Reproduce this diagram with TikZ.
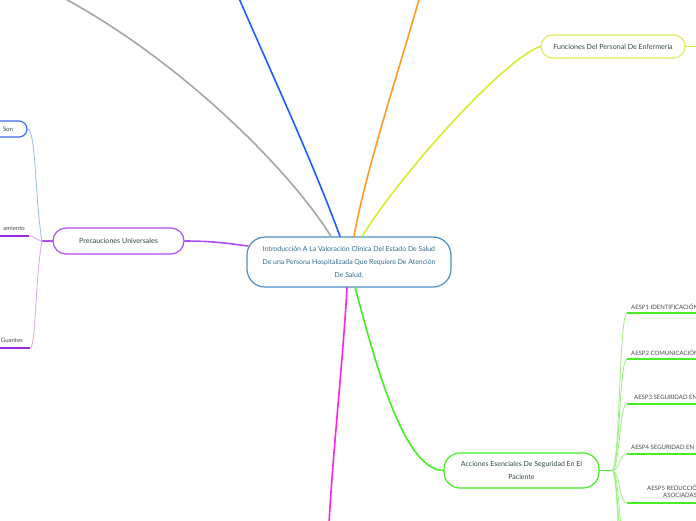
\documentclass[tikz,border=0pt]{standalone}
\usepackage{fontspec}
\setmainfont{Lato}
\definecolor{centblue}{HTML}{4A90C8}
\definecolor{centtext}{HTML}{2E6E8E}
\definecolor{graycol}{HTML}{A6A6A6}
\definecolor{bluecol}{HTML}{1F5BFF}
\definecolor{orangecol}{HTML}{FF9A22}
\definecolor{ygcol}{HTML}{D2F030}
\definecolor{ygbox}{HTML}{D6F25A}
\definecolor{purpcol}{HTML}{B14CF0}
\definecolor{magcol}{HTML}{FF22E0}
\definecolor{greencol}{HTML}{44EE22}
\definecolor{lightgreen}{HTML}{9CF080}
\definecolor{sonblue}{HTML}{3C6CF0}
\definecolor{sonline}{HTML}{9DB8FF}
\definecolor{lightpurp}{HTML}{D9A5F7}
\definecolor{darkpurp}{HTML}{9A2BE0}
\definecolor{leafgray}{HTML}{4A4A4A}
\definecolor{textdark}{HTML}{2F4A48}
\tikzset{
  mainbox/.style={draw, fill=white, line width=1.2pt, align=center, inner sep=0pt},
  conn/.style={line width=1.6pt, line cap=round},
  subconn/.style={line width=0.8pt},
  uline/.style={line width=1.4pt},
  leaf/.style={font=\fontsize{6}{7}\selectfont, text=leafgray, anchor=west, inner sep=0pt},
  lefttxt/.style={font=\fontsize{6}{7}\selectfont, text=leafgray, anchor=east, inner sep=0pt}
}
\begin{document}
\begin{tikzpicture}[x=1pt,y=-1pt]
\fill[white] (0,0) rectangle (696,520);
\useasboundingbox (0,0) rectangle (696,520);
\clip (0,0) rectangle (696,520);

% nodes
\node[mainbox, draw=centblue, text=centtext, minimum width=204pt, minimum height=50pt, rounded corners=18pt,
      font=\fontsize{6.9}{13}\selectfont] (cent) at (349,262)
  {Introducción A La Valoración Clínica Del Estado De Salud\\De una Persona Hospitalizada Que Requiere De Atención\\De Salud.};
\node[mainbox, draw=ygbox, text=textdark, minimum width=144pt, minimum height=23pt, rounded corners=11.5pt,
      font=\fontsize{7.1}{8}\selectfont] (func) at (613,46.5) {Funciones Del Personal De Enfermeria};
\node[mainbox, draw=purpcol, text=textdark, minimum width=131pt, minimum height=26pt, rounded corners=13pt,
      font=\fontsize{7.1}{8}\selectfont] (prec) at (118.5,241) {Precauciones Universales};
\node[mainbox, draw=greencol, text=textdark, minimum width=155pt, minimum height=35pt, rounded corners=16pt,
      font=\fontsize{7}{13}\selectfont] (acc) at (521.5,470.5) {Acciones Esenciales De Seguridad En El\\Paciente};
\node[mainbox, draw=sonblue, text=textdark, minimum width=38pt, minimum height=16pt, rounded corners=8pt,
      font=\fontsize{6.2}{7}\selectfont] (son) at (8,129) {Son};

% free ends
\coordinate (gtop) at (60,-4);
\coordinate (btop) at (238,-4);
\coordinate (otop) at (420,-4);
\coordinate (mbot) at (329,524);
\coordinate (fend) at (700,46.5);
\coordinate (pj) at (42,241);
\coordinate (pcent) at (248,246);

% main connectors
\draw[conn, graycol] ([xshift=-18pt]cent.north) .. controls (290,170) and (180,60) .. (gtop);
\draw[conn, bluecol] ([xshift=-9pt]cent.north) .. controls (312,160) and (270,70) .. (btop);
\draw[conn, orangecol] ([xshift=5pt]cent.north) .. controls (366,170) and (396,80) .. (otop);
\draw[conn, ygcol] ([xshift=13pt]cent.north) .. controls (402,172) and (505,58) .. (func.west);
\draw[conn, ygcol] (func.east) -- (fend);
\draw[conn, purpcol] (prec.east) .. controls (215,241) and (232,244) .. (pcent);
\draw[conn, magcol] ([xshift=-2pt]cent.south) .. controls (343,360) and (333,450) .. (mbot);
\draw[conn, greencol] ([xshift=6pt]cent.south) .. controls (370,340) and (400,470) .. (acc.west);

% Precauciones children
\draw[conn, purpcol] (prec.west) -- (pj);
\coordinate (am1) at (29,236);
\coordinate (am0) at (-4,236);
\coordinate (gu1) at (30,348);
\coordinate (gu0) at (-4,348);
\draw[subconn, sonline] (pj) .. controls (35,200) and (36,130) .. (son.east);
\draw[subconn, lightpurp] (pj) .. controls (36,240) and (34,236) .. (am1);
\draw[subconn, lightpurp] (pj) .. controls (35,280) and (36,348) .. (gu1);
\draw[uline, darkpurp] (am1) -- (am0);
\draw[uline, darkpurp] (gu1) -- (gu0);
\node[lefttxt] (amtxt) at (25,228.5) {amiento};
\node[lefttxt] (gutxt) at (23,340.5) {Guantes};

% Acciones children
\coordinate (aj) at (612,470.5);
\draw[conn, greencol] (acc.east) -- (aj);
\foreach \y/\n in {313/1,359/2,404/3,454/4,503/5}{
  \coordinate (u\n) at (627,\y);
  \coordinate (ue\n) at (700,\y);
  \draw[subconn, lightgreen] (aj) .. controls (620,470.5) and (619,\y) .. (u\n);
  \draw[uline, greencol] (u\n) -- (ue\n);
}
\foreach \y/\n in {550/6,600/7,650/8}{
  \coordinate (u\n) at (627,\y);
  \draw[subconn, lightgreen] (aj) .. controls (620,470.5) and (619,\y) .. (u\n);
}
\node[leaf] (t1) at (631,307) {AESP1 IDENTIFICACIÓN};
\node[leaf] (t2) at (631,352.5) {AESP2 COMUNICACIÓN};
\node[leaf] (t3) at (634,397.5) {AESP3 SEGURIDAD EN};
\node[leaf] (t4) at (631,447.5) {AESP4 SEGURIDAD EN};
\node[leaf] (t5a) at (647,487.5) {AESP5 REDUCCIÓN};
\node[leaf] (t5b) at (663,495.5) {ASOCIADAS};
\end{tikzpicture}
\end{document}
